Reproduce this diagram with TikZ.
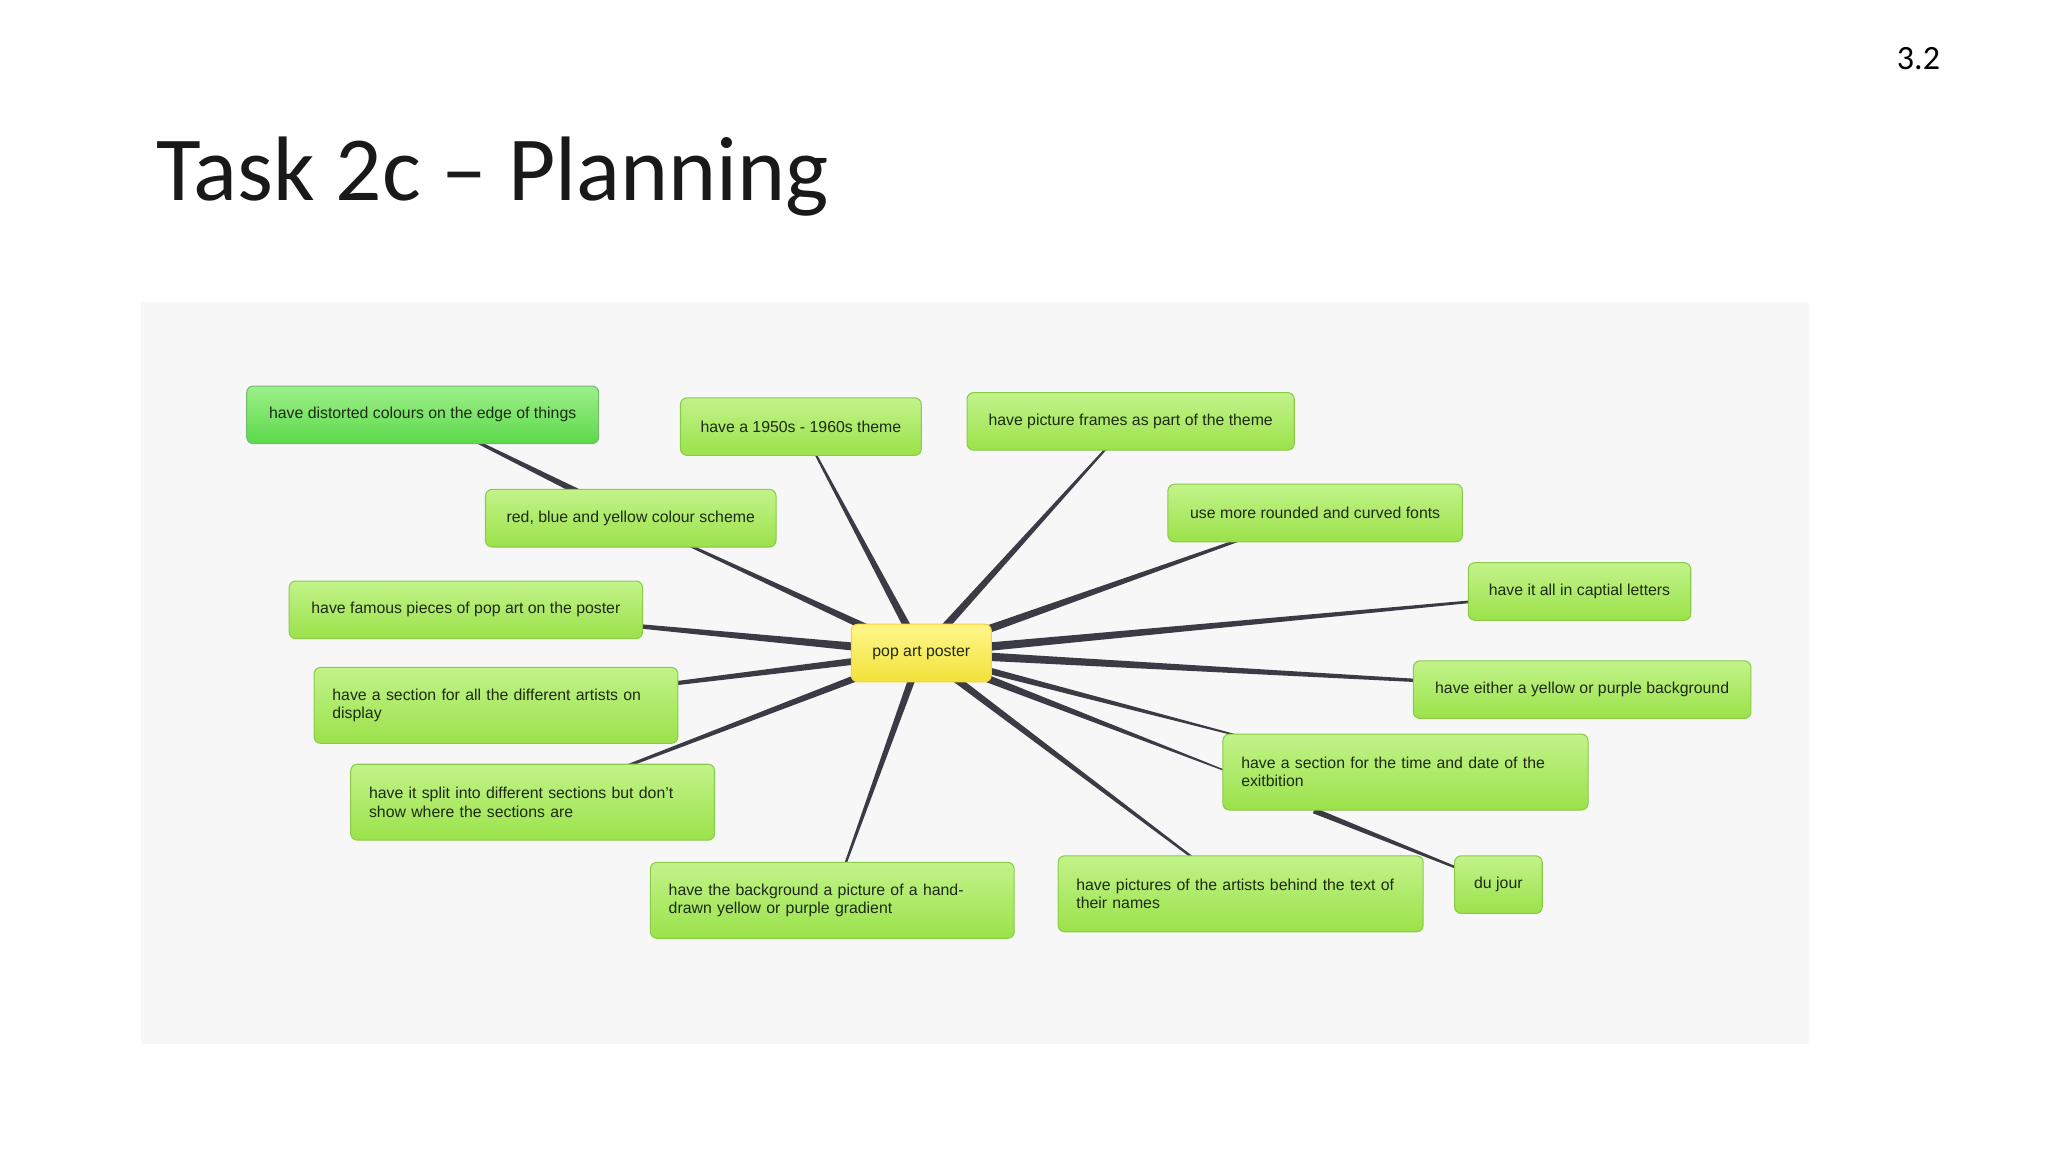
\documentclass[tikz,border=0pt]{standalone}
\usepackage{fontspec}
\setmainfont{Liberation Sans}
\newfontfamily\titlefont{Carlito}
\usetikzlibrary{calc,backgrounds}
\definecolor{edgec}{HTML}{3A3B44}
\definecolor{txt}{HTML}{1E2A14}
\definecolor{gtop}{HTML}{C2F38A}
\definecolor{gbot}{HTML}{9BE24A}
\definecolor{gdraw}{HTML}{8ACB48}
\definecolor{dtop}{HTML}{9EF08A}
\definecolor{dbot}{HTML}{5CD84A}
\definecolor{ytop}{HTML}{FFF68A}
\definecolor{ybot}{HTML}{F2E23A}
\tikzset{
  idea/.style={rounded corners=5pt, draw=gdraw, top color=gtop, bottom color=gbot, line width=0.8pt, font=\fontsize{12.1}{14}\selectfont, text=txt, minimum height=44pt, inner sep=0pt},
  idea2/.style={idea, minimum height=58pt, align=left},
  hub/.style={idea, top color=ytop, bottom color=ybot, draw=yellow!60!orange!80},
  deep/.style={idea, top color=dtop, bottom color=dbot, draw=green!50!black!55}
}
\newcommand\taper[3]{\fill[edgec] ($(#1)!#3!90:(#2)$) -- ($(#2)!0.5pt!-90:(#1)$) -- ($(#2)!0.5pt!90:(#1)$) -- ($(#1)!#3!-90:(#2)$) -- cycle;}
\begin{document}
\begin{tikzpicture}[x=1pt,y=-1pt]
\useasboundingbox (0,0) rectangle (1565,881);
\begin{scope}[on background layer]
\fill[white] (0,0) rectangle (1565,881);
\fill[black!3] (108,231) rectangle (1382,798);
\end{scope}
\node[anchor=base west, font=\titlefont\fontsize{70}{78}\selectfont, text=black!90] (title) at (116,153) {Task 2c – Planning};
\node[anchor=base east, font=\titlefont\fontsize{26}{28}\selectfont] (num) at (1486,53) {3.2};

\node[hub, minimum width=107pt] (pop) at (704,499) {pop art poster};
\node[deep, minimum width=269pt] (dist) at (323,317) {have distorted colours on the edge of things};
\node[idea, minimum width=184pt] (n50) at (612,326) {have a 1950s - 1960s theme};
\node[idea, minimum width=250pt] (frames) at (864,322) {have picture frames as part of the theme};
\node[idea, minimum width=222pt] (rby) at (482,396) {red, blue and yellow colour scheme};
\node[idea, minimum width=225pt] (fonts) at (1005,392) {use more rounded and curved fonts};
\node[idea, minimum width=170pt] (caps) at (1207,452) {have it all in captial letters};
\node[idea, minimum width=270pt] (famous) at (356,466) {have famous pieces of pop art on the poster};
\node[idea2, minimum width=278pt, text width=250pt] (artists) at (379,539) {have a section for all the different artists on\\display\\[10pt]};
\node[idea, minimum width=258pt] (yp) at (1209,527) {have either a yellow or purple background};
\node[idea2, minimum width=279pt, text width=251pt] (time) at (1074,590) {have a section for the time and date of the\\exitbition\\[10pt]};
\node[idea2, minimum width=278pt, text width=250pt] (split) at (407,613) {have it split into different sections but don't\\show where the sections are\\[10pt]};
\node[idea2, minimum width=278pt, text width=250pt] (bg) at (636,688) {have the background a picture of a hand-\\drawn yellow or purple gradient\\[10pt]};
\node[idea2, minimum width=279pt, text width=251pt] (pics) at (948,683) {have pictures of the artists behind the text of\\their names\\[10pt]};
\node[idea, minimum width=67pt] (dj) at (1145,676) {du jour};
\coordinate (tnw) at ($(time.north west)+(25,5)$);
\coordinate (tw) at ($(time.west)+(5,0)$);
\coordinate (tsw) at ($(time.south west)!0.25!(time.south east)$);

\begin{scope}[on background layer]
\taper{pop}{n50}{3.2pt}
\taper{pop}{frames}{3.2pt}
\taper{pop}{rby}{3.2pt}
\taper{pop}{fonts}{3.5pt}
\taper{pop}{caps}{3.5pt}
\taper{pop}{famous}{3.5pt}
\taper{pop}{artists}{3pt}
\taper{pop}{yp}{3.5pt}
\taper{pop}{tw}{3.5pt}
\taper{pop}{tnw}{3pt}
\taper{pop}{split}{3pt}
\taper{pop}{bg}{3pt}
\taper{pop}{pics}{3pt}
\taper{rby}{dist}{3pt}
\taper{tsw}{dj}{2.2pt}
\end{scope}
\end{tikzpicture}
\end{document}
